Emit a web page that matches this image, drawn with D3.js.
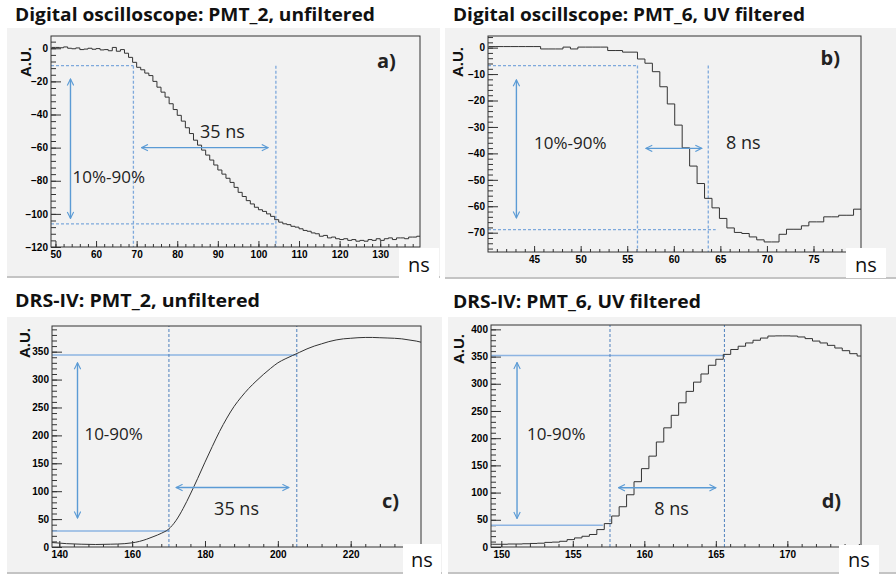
<!DOCTYPE html>
<html>
<head>
<meta charset="utf-8">
<script src="https://cdnjs.cloudflare.com/ajax/libs/d3/7.8.5/d3.min.js"></script>
<style>
body { margin: 0; background: #fff; }
svg { display: block; }
.tick line { stroke: #333; }
</style>
</head>
<body>
<svg id="fig" width="896" height="577"></svg>
<script>
// ---- data ----
// a) digital scope, PMT_2 unfiltered: 1 ns bins starting at 49 ns
var aStart = 49, aBin = 1
var aValues = [0.5,0.5,0.3,0.8,0,-0.3,0.2,-0.8,-0.5,0,
  -0.6,-0.2,-1,-0.8,-1.5,0.5,-1.8,-0.8,-3,-5.5,
  -8.5,-11.5,-13,-15,-16.5,-20,-23.5,-26.5,-29.5,-33.5,
  -37,-40.5,-44,-48,-51.5,-55.5,-58.5,-61.5,-64.5,-67.5,
  -70.5,-73.5,-76,-78.5,-81,-84,-87,-89.5,-92,-94,
  -96,-97.5,-98.5,-100,-101.5,-103.5,-105,-106,-106.5,-107.5,
  -108,-109,-110,-110.5,-111.5,-112,-113.5,-113,-114.5,-114,
  -115,-115.5,-115,-116,-115.5,-116.5,-116,-116.5,-115.5,-116,
  -115,-116,-115,-114.5,-115.5,-114.5,-114.5,-115,-114,-114,-113.5]
var aXTicks = [50,60,70,80,90,100,110,120,130]
var aYTicks = [-120,-100,-80,-60,-40,-20,0]

// b) digital scope, PMT_6 UV filtered: 0.8 ns bins
var bStart = 40.1, bBin = 0.8
var bValues = [0.4,0.4,0.4,0.4,0.4,0.4,0.4,-0.5,-0.5,-0.5,
  0.2,-0.5,0.2,0.2,0.2,0.2,-1.1,-1.1,-1.7,-1.7,
  -4.3,-5.9,-9.1,-14.8,-21.3,-29.3,-37.9,-44.8,-51.4,-57,
  -60.6,-64.6,-68.2,-69.9,-70.3,-71.6,-72.7,-73.5,-73.5,-70.6,
  -68.7,-68.7,-67.4,-65.9,-65.9,-64,-64,-63.4,-63.4,-61.1]
var bXTicks = [45,50,55,60,65,70,75]
var bYTicks = [-70,-60,-50,-40,-30,-20,-10,0]

// c) DRS-IV, PMT_2 unfiltered (fine sampling, read as points)
var cTime = [138,142,146,150,154,158,160,162,164,166,168,170,172,174,176,178,180,182,184,186,
  188,190,192,194,196,198,200,202,204,206,208,210,212,214,216,218,220,222,224,226,228,230,232,234,236,238,239.3]
var cValues = [8,6,5,4.5,5,6,7.5,10,14,19,24.5,32,47,69,95,123,152,180,207,231,
  252,269,284,297,309,320,330,337,343,349,355,360,364,368,371,373,374,375,375.5,375.5,375,374.5,374,373,371,369,367]
var cXTicks = [140,160,180,200,220]
var cYTicks = [0,50,100,150,200,250,300,350]

// d) DRS-IV, PMT_6 UV filtered: 0.52 ns bins
var dStart = 148.88, dBin = 0.52
var dValues = [5,5,5,5.5,5.5,6,6.5,7,8.5,9,10.5,13.6,16.7,19.7,23,32,
  43,57,74,96,120,144,167,193,219,242,265,286,303,318,334,345,354,
  363,369,375,380,384,387.7,388,388,387.7,386,383,378.5,375,370.6,365.7,360.8,355.3,351]
var dXTicks = [150,155,160,165,170]
var dYTicks = [0,50,100,150,200,250,300,350,400]

// rise-time markers: [10% level, 90% level], [t10, t90], where each level line ends
var aLevels = [-10.5, -106], aTimes = [69.2, 104.3], aLevelEnds = [69.2, 104.3]
var bLevels = [-6.8, -68.8], bTimes = [56.1, 63.7], bLevelEnds = [56.1, 64.5]
var cLevels = [28.6, 344], cTimes = [170.1, 205.2], cLevelEnds = [170.1, 205.2]
var dLevels = [40, 352], dTimes = [157.6, 165.6], dLevelEnds = [157.1, 165.6]

function histPoints(start, bin, vals) {
  var pts = vals.map(function(v, i) { return [start + i * bin, v] })
  pts.push([start + vals.length * bin, vals[vals.length - 1]])
  return pts
}

var svg = d3.select('#fig')
var defs = svg.append('defs')
defs.append('marker')
  .attr('id', 'arr').attr('viewBox', '0 0 10 10')
  .attr('refX', 9).attr('refY', 5)
  .attr('markerWidth', 8).attr('markerHeight', 8)
  .attr('markerUnits', 'userSpaceOnUse')
  .attr('orient', 'auto-start-reverse')
  .append('path').attr('d', 'M1,1 L9,5 L1,9')
  .attr('fill', 'none').attr('stroke', '#5b9bd5').attr('stroke-width', 1.4)

var panels = [
  {id: 'a', title: 'Digital oscilloscope: PMT_2, unfiltered', tx: 15, ty: 21, tw: 360,
   bg: [7, 28, 433, 249], frame: [51, 420, 36, 247], xd: [48.9, 139.8], yd: [-120, 7.4],
   xt: aXTicks, xm: 2, yt: aYTicks, ym: 4,
   pts: histPoints(aStart, aBin, aValues), step: true,
   ns: [399, 248, 40, 30, 272], au: [26, 62],
   levels: aLevels, times: aTimes, ends: aLevelEnds, style: 'scope',
   vArrow: [53.7, -18.6, -102.7], hArrow: [-60, 71.2, 102.4],
   pct: ['10%-90%', 54.2, -81.2], dt: ['35 ns', 85.6, -54.3], tag: ['a)', 129.2, -11.9]},
  {id: 'b', title: 'Digital oscillscope: PMT_6, UV filtered', tx: 453, ty: 21, tw: 352,
   bg: [445, 28, 451, 250], frame: [488, 861, 36, 252], xd: [40.05, 80.1], yd: [-77.3, 4.4],
   xt: bXTicks, xm: 1, yt: bYTicks, ym: 2,
   pts: histPoints(bStart, bBin, bValues), step: true,
   ns: [846, 248, 40, 30, 272], au: [458, 62],
   levels: bLevels, times: bTimes, ends: bLevelEnds, style: 'scope',
   vArrow: [43.1, -12.2, -64.4], hArrow: [-38.1, 57.0, 63.0],
   pct: ['10%-90%', 45.0, -38.4], dt: ['8 ns', 65.6, -38.4], tag: ['b)', 75.75, -6.5]},
  {id: 'c', title: 'DRS-IV: PMT_2, unfiltered', tx: 15, ty: 307, tw: 245,
   bg: [7, 317, 435, 256], frame: [52, 421, 326, 547], xd: [138, 239.3], yd: [0, 396],
   xt: cXTicks, xm: 4, yt: cYTicks, ym: 10,
   pts: cTime.map(function(t, i) { return [t, cValues[i]] }), step: false,
   ns: [403, 544, 38, 33, 567], au: [25, 343],
   levels: cLevels, times: cTimes, ends: cLevelEnds, style: 'drs',
   vArrow: [145, 330, 52], hArrow: [106.6, 172.1, 203],
   pct: ['10-90%', 146.9, 191.4], dt: ['35 ns', 182.5, 57.3], tag: ['c)', 228.6, 69]},
  {id: 'd', title: 'DRS-IV: PMT_6, UV filtered', tx: 453, ty: 308, tw: 248,
   bg: [448, 317, 448, 256], frame: [491, 861, 325, 547], xd: [149.28, 175.15], yd: [0, 408],
   xt: dXTicks, xm: 1, yt: dYTicks, ym: 10,
   pts: histPoints(dStart, dBin, dValues), step: true,
   ns: [839, 545, 40, 32, 567], au: [459, 349],
   levels: dLevels, times: dTimes, ends: dLevelEnds, style: 'drs',
   vArrow: [151.1, 339, 52.5], hArrow: [109, 158.2, 165],
   pct: ['10-90%', 151.8, 196.3], dt: ['8 ns', 160.7, 58.7], tag: ['d)', 172.4, 70.8]}
]

panels.forEach(drawPanel)

function minorTicks(dom, step) {
  var lo = Math.min(dom[0], dom[1]), hi = Math.max(dom[0], dom[1])
  return d3.range(Math.ceil(lo / step - 1e-9) * step, hi + 1e-9, step)
}

// strip the axis line and set ROOT-like bold labels
function rootAxis(s) {
  s.select('.domain').remove()
  s.selectAll('text')
    .style('font-family', '"Liberation Sans", Arial, sans-serif')
    .style('font-weight', 'bold').style('font-size', '10px').attr('fill', '#000')
}

function drawPanel(p) {
  var g = svg.append('g')
  var L = p.frame[0], R = p.frame[1], T = p.frame[2], B = p.frame[3]

  // panel background
  g.append('rect').attr('x', p.bg[0]).attr('y', p.bg[1]).attr('width', p.bg[2]).attr('height', p.bg[3])
    .attr('fill', '#f2f2f2')
  g.append('line').attr('x1', p.bg[0]).attr('x2', p.bg[0] + p.bg[2])
    .attr('y1', p.bg[1] + p.bg[3]).attr('y2', p.bg[1] + p.bg[3])
    .attr('stroke', '#c4c4c4').attr('stroke-width', 2)

  // title
  g.append('text').attr('x', p.tx).attr('y', p.ty)
    .attr('textLength', p.tw).attr('lengthAdjust', 'spacingAndGlyphs')
    .style('font-family', '"Open Sans", sans-serif').style('font-weight', 'bold').style('font-size', '17px')
    .attr('fill', '#111').text(p.title)

  var x = d3.scaleLinear().domain(p.xd).range([L, R])
  var y = d3.scaleLinear().domain(p.yd).range([B, T])

  g.append('clipPath').attr('id', 'clip' + p.id)
    .append('rect').attr('x', L).attr('y', T).attr('width', R - L).attr('height', B - T)

  // axes (ROOT style: ticks inside frame)
  g.append('g').attr('transform', 'translate(0,' + B + ')')
    .call(d3.axisBottom(x).tickValues(minorTicks(p.xd, p.xm)).tickFormat('').tickSize(-3).tickSizeOuter(0))
    .call(rootAxis)
  g.append('g').attr('transform', 'translate(0,' + B + ')')
    .call(d3.axisBottom(x).tickValues(p.xt).tickSize(-6).tickSizeOuter(0).tickPadding(4))
    .call(rootAxis)
  g.append('g').attr('transform', 'translate(' + L + ',0)')
    .call(d3.axisLeft(y).tickValues(minorTicks(p.yd, p.ym)).tickFormat('').tickSize(-5).tickSizeOuter(0))
    .call(rootAxis)
  g.append('g').attr('transform', 'translate(' + L + ',0)')
    .call(d3.axisLeft(y).tickValues(p.yt).tickSize(-10).tickSizeOuter(0).tickPadding(3))
    .call(rootAxis)

  // A.U. label
  g.append('text').attr('transform', 'translate(' + p.au[0] + ',' + p.au[1] + ') rotate(-90)')
    .attr('text-anchor', 'middle').attr('dy', '0.35em')
    .style('font-family', '"Liberation Sans", Arial, sans-serif').style('font-weight', 'bold').style('font-size', '15px')
    .attr('fill', '#111').text('A.U.')

  // rise-time guide lines
  var guides = g.append('g')
  var lo = p.yd[0], hi = p.yd[1], x0 = p.xd[0]
  if (p.style === 'scope') {
    var segs = [
      [x0, p.levels[0], p.ends[0], p.levels[0]],
      [x0, p.levels[1], p.ends[1], p.levels[1]],
      [p.times[0], p.levels[0], p.times[0], lo],
      [p.times[1], p.levels[0], p.times[1], lo]
    ]
    segs.forEach(function(s) {
      guides.append('line').attr('x1', x(s[0])).attr('y1', y(s[1])).attr('x2', x(s[2])).attr('y2', y(s[3]))
        .attr('stroke', '#7ea9dc').attr('stroke-width', 1.3).attr('stroke-dasharray', '3,2')
    })
  } else {
    // solid horizontal levels, dashed full-height verticals
    p.levels.forEach(function(v, i) {
      guides.append('line').attr('x1', x(x0)).attr('x2', x(p.ends[i]))
        .attr('y1', y(v)).attr('y2', y(v))
        .attr('stroke', '#8db4e2').attr('stroke-width', 1.4)
    })
    p.times.forEach(function(t) {
      guides.append('line').attr('x1', x(t)).attr('x2', x(t)).attr('y1', y(lo)).attr('y2', y(hi))
        .attr('stroke', '#4f81bd').attr('stroke-width', 1).attr('stroke-dasharray', '3,2')
    })
  }

  // waveform
  var line = d3.line().x(function(d) { return x(d[0]) }).y(function(d) { return y(d[1]) })
    .curve(p.step ? d3.curveStepAfter : d3.curveMonotoneX)
  g.append('path').datum(p.pts).attr('d', line)
    .attr('clip-path', 'url(#clip' + p.id + ')')
    .attr('fill', 'none').attr('stroke', '#333').attr('stroke-width', 1)

  // arrows
  g.append('line').attr('x1', x(p.vArrow[0])).attr('x2', x(p.vArrow[0]))
    .attr('y1', y(p.vArrow[1])).attr('y2', y(p.vArrow[2]))
    .attr('stroke', '#5b9bd5').attr('stroke-width', 1.4)
    .attr('marker-start', 'url(#arr)').attr('marker-end', 'url(#arr)')
  g.append('line').attr('x1', x(p.hArrow[1])).attr('x2', x(p.hArrow[2]))
    .attr('y1', y(p.hArrow[0])).attr('y2', y(p.hArrow[0]))
    .attr('stroke', '#5b9bd5').attr('stroke-width', 1.4)
    .attr('marker-start', 'url(#arr)').attr('marker-end', 'url(#arr)')

  // frame
  g.append('rect').attr('x', L).attr('y', T).attr('width', R - L).attr('height', B - T)
    .attr('fill', 'none').attr('stroke', '#333').attr('stroke-width', 1)

  // annotation texts
  var ann = [[p.pct, 17, 'normal'], [p.dt, 18, 'normal'], [p.tag, 20, 'bold']]
  ann.forEach(function(a) {
    g.append('text').attr('x', x(a[0][1])).attr('y', y(a[0][2]))
      .style('font-family', '"Open Sans", sans-serif').style('font-size', a[1] + 'px').style('font-weight', a[2])
      .attr('fill', '#222').text(a[0][0])
  })

  // "ns" label box
  g.append('rect').attr('x', p.ns[0]).attr('y', p.ns[1]).attr('width', p.ns[2]).attr('height', p.ns[3]).attr('fill', '#fff')
  g.append('text').attr('x', p.ns[0] + p.ns[2] / 2).attr('y', p.ns[4]).attr('text-anchor', 'middle')
    .style('font-family', '"Open Sans", sans-serif').style('font-size', '20px')
    .attr('fill', '#111').text('ns')
}
</script>
</body>
</html>
